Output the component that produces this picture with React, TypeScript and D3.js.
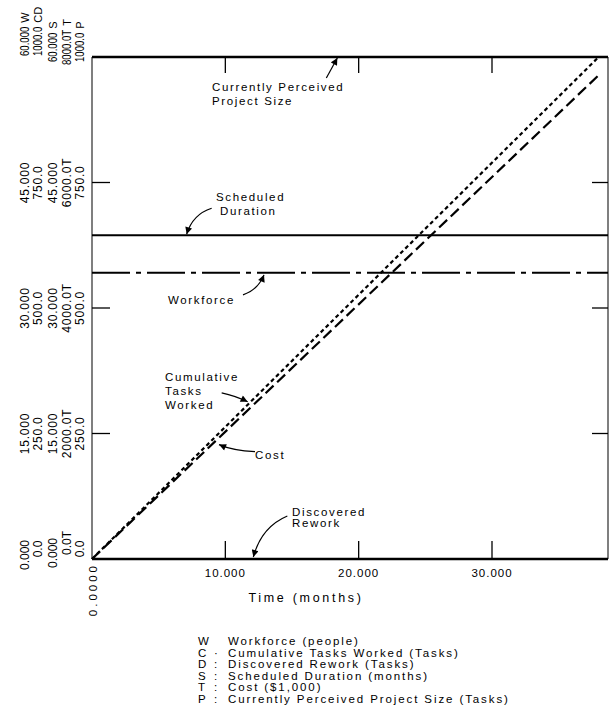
import React, { useEffect, useRef } from 'react';
import * as d3 from 'd3';

// simulated run (months) and the series
const runTime = [0, 38.0];
const cumulativeTasks = [0, 1000];
const costK = [0, 7710];

// constant series over the whole time axis
const fullTime = [0, 38.7];
const workforce = [34.2, 34.2];
const scheduledDuration = [38.7, 38.7];
const perceivedSize = [1000, 1000];
const discoveredRework = [0, 0];

// axis ticks and labels
const xTicks = [0, 10, 20, 30];
const xTickLabels = ['0.0000', '10.000', '20.000', '30.000'];
const wLevels = [0, 15, 30, 45, 60];
const wLabels = ['0.000', '15.000', '30.000', '45.000', '60.000'];
const cdLabels = ['0.0', '250.0', '500.0', '750.0', '1000.0'];
const sLabels = ['0.000', '15.000', '30.000', '45.000', '60.000'];
const tLabels = ['0.0T', '2000.0T', '4000.0T', '6000.0T', '8000.0T'];
const pLabels = ['0.0', '250.0', '500.0', '750.0', '1000.0'];
const axisHeaders = ['W', 'CD', 'S', 'T', 'P'];

// key below the plot
const legendKeys = ['W', 'C', 'D', 'S', 'T', 'P'];
const legendSeps = ['', '\u00b7', ':', ':', ':', ':'];
const legendText = [
  'Workforce (people)',
  'Cumulative Tasks Worked (Tasks)',
  'Discovered Rework (Tasks)',
  'Scheduled Duration (months)',
  'Cost ($1,000)',
  'Currently Perceived Project Size (Tasks)',
];

const FONT = '"Liberation Sans", Arial, sans-serif';

export default function App() {
  const ref = useRef<SVGSVGElement>(null);

  useEffect(() => {
    const svg = d3.select(ref.current);
    svg.selectAll('*').remove();

    const left = 92, right = 608, top = 57, bottom = 559;

    const x = d3.scaleLinear().domain([0, 38.7]).range([left, right]);
    const yW = d3.scaleLinear().domain([0, 60]).range([bottom, top]);
    const yC = d3.scaleLinear().domain([0, 1000]).range([bottom, top]);
    const yS = d3.scaleLinear().domain([0, 60]).range([bottom, top]);
    const yT = d3.scaleLinear().domain([0, 8000]).range([bottom, top]);
    const yP = d3.scaleLinear().domain([0, 1000]).range([bottom, top]);

    // arrowhead
    svg.append('defs').append('marker')
      .attr('id', 'arr')
      .attr('viewBox', '0 0 10 10')
      .attr('refX', 10).attr('refY', 5)
      .attr('markerWidth', 9).attr('markerHeight', 7)
      .attr('markerUnits', 'userSpaceOnUse')
      .attr('orient', 'auto')
      .append('path').attr('d', 'M0,0 L10,5 L0,10 z').attr('fill', '#000');

    // frame: left and right thin, ticks inward
    svg.append('line').attr('x1', left).attr('x2', left).attr('y1', top).attr('y2', bottom)
      .attr('stroke', '#555').attr('stroke-width', 1.5);
    svg.append('line').attr('x1', right).attr('x2', right).attr('y1', top).attr('y2', bottom)
      .attr('stroke', '#555').attr('stroke-width', 1.5);

    xTicks.slice(1).forEach(t => {
      svg.append('line').attr('x1', x(t)).attr('x2', x(t)).attr('y1', bottom).attr('y2', bottom - 18)
        .attr('stroke', '#000').attr('stroke-width', 1.3);
      svg.append('line').attr('x1', x(t)).attr('x2', x(t)).attr('y1', top).attr('y2', top + 16)
        .attr('stroke', '#000').attr('stroke-width', 1.3);
    });
    wLevels.slice(1, 4).forEach(v => {
      svg.append('line').attr('x1', left).attr('x2', left + 18).attr('y1', yW(v)).attr('y2', yW(v))
        .attr('stroke', '#000').attr('stroke-width', 1.3);
      svg.append('line').attr('x1', right).attr('x2', right - 16).attr('y1', yW(v)).attr('y2', yW(v))
        .attr('stroke', '#000').attr('stroke-width', 1.3);
    });

    const line = (xs: number[], ys: number[], yScale: d3.ScaleLinear<number, number>) =>
      d3.line<number>().x((d, i) => x(xs[i])).y(d => yScale(d))(ys);

    // P and D (heavy solid, on the frame)
    svg.append('path').attr('d', line(fullTime, perceivedSize, yP))
      .attr('fill', 'none').attr('stroke', '#000').attr('stroke-width', 2.6);
    svg.append('path').attr('d', line(fullTime, discoveredRework, yC))
      .attr('fill', 'none').attr('stroke', '#000').attr('stroke-width', 2.6);
    // S solid
    svg.append('path').attr('d', line(fullTime, scheduledDuration, yS))
      .attr('fill', 'none').attr('stroke', '#000').attr('stroke-width', 2);
    // W dash-dot
    svg.append('path').attr('d', line(fullTime, workforce, yW))
      .attr('fill', 'none').attr('stroke', '#000').attr('stroke-width', 2)
      .attr('stroke-dasharray', '38 6 5 6');
    // C dotted
    svg.append('path').attr('d', line(runTime, cumulativeTasks, yC))
      .attr('fill', 'none').attr('stroke', '#000').attr('stroke-width', 2.2)
      .attr('stroke-dasharray', '4 3');
    // T dashed
    svg.append('path').attr('d', line(runTime, costK, yT))
      .attr('fill', 'none').attr('stroke', '#000').attr('stroke-width', 2.2)
      .attr('stroke-dasharray', '11 5');

    // left axis label columns (rotated)
    const colX = [25, 38, 53, 67, 80];
    const cols = [wLabels, cdLabels, sLabels, tLabels, pLabels];
    const topStart = [56, 56, 62, 65, 62];
    const bottomMid = [555, 549, 553, 543, 549];
    const topEnds: number[] = [];
    cols.forEach((labels, c) => {
      labels.forEach((lab, i) => {
        let yy = yW(wLevels[i]);
        let anchor = 'middle';
        let ls = 0.8;
        let sx = 1;
        if (i === 4) { anchor = 'start'; yy = topStart[c]; ls = 0; sx = 0.8; }
        if (i === 0) { yy = bottomMid[c]; ls = 0; }
        const t = svg.append('text')
          .attr('transform', `translate(${colX[c]},${yy}) rotate(-90) scale(${sx},1)`)
          .attr('text-anchor', anchor)
          .attr('dominant-baseline', 'central')
          .attr('font-family', FONT).attr('font-size', 12)
          .attr('letter-spacing', ls)
          .text(lab);
        if (i === 4) {
          const len = (t.node() as SVGTextElement).getComputedTextLength() * sx;
          topEnds[c] = yy - len;
        }
      });
    });
    // series letters sit just above the top labels
    axisHeaders.forEach((h, c) => {
      svg.append('text')
        .attr('transform', `translate(${colX[c]},${topEnds[c] - 4}) rotate(-90)`)
        .attr('text-anchor', 'start')
        .attr('dominant-baseline', 'central')
        .attr('font-family', FONT).attr('font-size', 11)
        .text(h);
    });

    // x tick labels
    xTicks.forEach((t, i) => {
      if (i === 0) {
        svg.append('text')
          .attr('transform', `translate(${x(t) + 1},${bottom + 4}) rotate(-90)`)
          .attr('text-anchor', 'end')
          .attr('dominant-baseline', 'central')
          .attr('font-family', FONT).attr('font-size', 11.5)
          .attr('letter-spacing', 3)
          .text(xTickLabels[i]);
      } else {
        svg.append('text')
          .attr('x', x(t)).attr('y', bottom + 18)
          .attr('text-anchor', 'middle')
          .attr('font-family', FONT).attr('font-size', 11.5)
          .attr('letter-spacing', 1)
          .text(xTickLabels[i]);
      }
    });
    svg.append('text')
      .attr('x', 306).attr('y', 602)
      .attr('text-anchor', 'middle')
      .attr('font-family', FONT).attr('font-size', 12.5)
      .attr('letter-spacing', 2.7)
      .text('Time (months)');

    // annotations
    const note = (lines: string[], tx: number, ty: number) => {
      lines.forEach((s, i) => {
        svg.append('text')
          .attr('x', tx).attr('y', ty + i * 14)
          .attr('font-family', FONT).attr('font-size', 11.5)
          .attr('letter-spacing', 1.65)
          .text(s);
      });
    };
    const arrow = (d: string) => {
      svg.append('path').attr('d', d).attr('fill', 'none')
        .attr('stroke', '#000').attr('stroke-width', 1.2)
        .attr('marker-end', 'url(#arr)');
    };

    // Currently Perceived Project Size
    const pTip = [x(18.4), yP(1000) + 1];
    arrow(`M${pTip[0] - 11},${pTip[1] + 20} L${pTip[0]},${pTip[1]}`);
    note(['Currently Perceived', 'Project Size'], 212, 91);

    // Scheduled Duration
    const sTip = [x(7.1), yS(38.7) - 1];
    arrow(`M${sTip[0] + 25},${sTip[1] - 26} Q${sTip[0] + 6},${sTip[1] - 20} ${sTip[0]},${sTip[1]}`);
    note(['Scheduled'], 216, 201);
    note(['Duration'], 220, 215);

    // Workforce
    const wTip = [x(12.9), yW(34.2) + 2];
    arrow(`M${wTip[0] - 21},${wTip[1] + 20} Q${wTip[0] - 6},${wTip[1] + 15} ${wTip[0]},${wTip[1]}`);
    note(['Workforce'], 168, 304);

    // Cumulative Tasks Worked
    const cTip = [x(11.9) - 3, yC(1000 * 11.9 / 38.0)];
    arrow(`M${cTip[0] - 26},${cTip[1] - 9} Q${cTip[0] - 12},${cTip[1] - 6} ${cTip[0]},${cTip[1]}`);
    note(['Cumulative', 'Tasks', 'Worked'], 165, 381);
    // Cost
    const tTip = [x(9.3) + 3, yT(7710 * 9.3 / 38.0) + 4];
    arrow(`M${tTip[0] + 36},${tTip[1] + 7} Q${tTip[0] + 14},${tTip[1] + 6} ${tTip[0]},${tTip[1]}`);
    note(['Cost'], 255, 459);

    // Discovered Rework
    const dTip = [x(12.1), yC(0) - 2];
    arrow(`M${dTip[0] + 34},${dTip[1] - 41} Q${dTip[0] + 8},${dTip[1] - 30} ${dTip[0]},${dTip[1]}`);
    note(['Discovered'], 292, 516);
    note(['Rework'], 292, 527);

    // key
    legendKeys.forEach((k, i) => {
      const yy = 645 + i * 11.6;
      svg.append('text').attr('x', 198).attr('y', yy)
        .attr('font-family', FONT).attr('font-size', 11.5).text(k);
      svg.append('text').attr('x', 214).attr('y', yy)
        .attr('font-family', FONT).attr('font-size', 11.5).text(legendSeps[i]);
      svg.append('text').attr('x', 228).attr('y', yy)
        .attr('font-family', FONT).attr('font-size', 11.5)
        .attr('letter-spacing', 1.9)
        .text(legendText[i]);
    });
  }, []);

  return (
    <svg ref={ref} width={613} height={714}
      style={{ position: 'absolute', left: 0, top: 0, background: '#fff' }} />
  );
}
